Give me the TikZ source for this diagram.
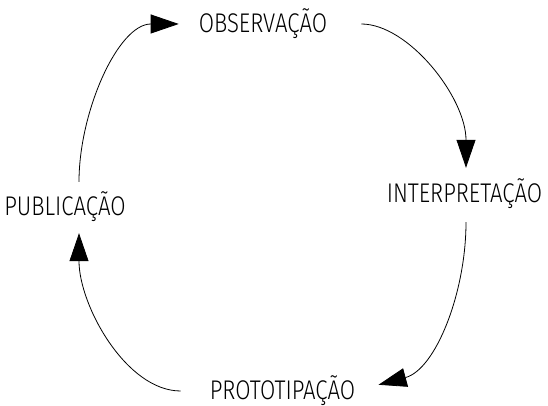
\documentclass[tikz,border=0pt]{standalone}
\usepackage{fontspec}
\IfFontExistsTF{Fira Sans Light}{\setmainfont{Fira Sans Light}[FakeStretch=0.82]}{\setmainfont{Liberation Sans}[FakeStretch=0.78]}
\usepackage{tikz}
\usetikzlibrary{arrows.meta,positioning}

\begin{document}
\begin{tikzpicture}[x=1pt, y=1pt, node distance=170pt]
    % Styles
    \tikzstyle{stage} = [inner sep=0pt, font=\fontsize{27}{32}\selectfont]
    \tikzstyle{arrow} = [line width=0.8pt, -{Triangle[length=28pt, width=19pt]}]

    \useasboundingbox (0,0) rectangle (548,406);

    % Nodes
    \node [stage] (obs) at (263,382) {OBSERVAÇÃO};
    \node [stage, below of=obs, xshift=201.5pt] (int) {INTERPRETAÇÃO};
    \node [stage, below of=obs, node distance=367pt, xshift=19.5pt] (pro) {PROTOTIPAÇÃO};
    \node [stage, below of=obs, node distance=183pt, xshift=-198pt] (pub) {PUBLICAÇÃO};

    % Arrows
    \draw [arrow, shorten <=34pt, shorten >=11pt] (obs.east) to[out=0, in=90] ([xshift=1.5pt]int.north);
    \draw [arrow, shorten <=13pt, shorten >=24pt] ([xshift=1.5pt]int.south) to[out=-90, in=15] (pro.east);
    \draw [arrow, shorten <=29pt, shorten >=11pt] (pro.west) to[out=180, in=-90] ([xshift=14pt]pub.south);
    \draw [arrow, shorten <=10pt, shorten >=20pt] ([xshift=14pt]pub.north) to[out=90, in=180] (obs.west);
\end{tikzpicture}
\end{document}
